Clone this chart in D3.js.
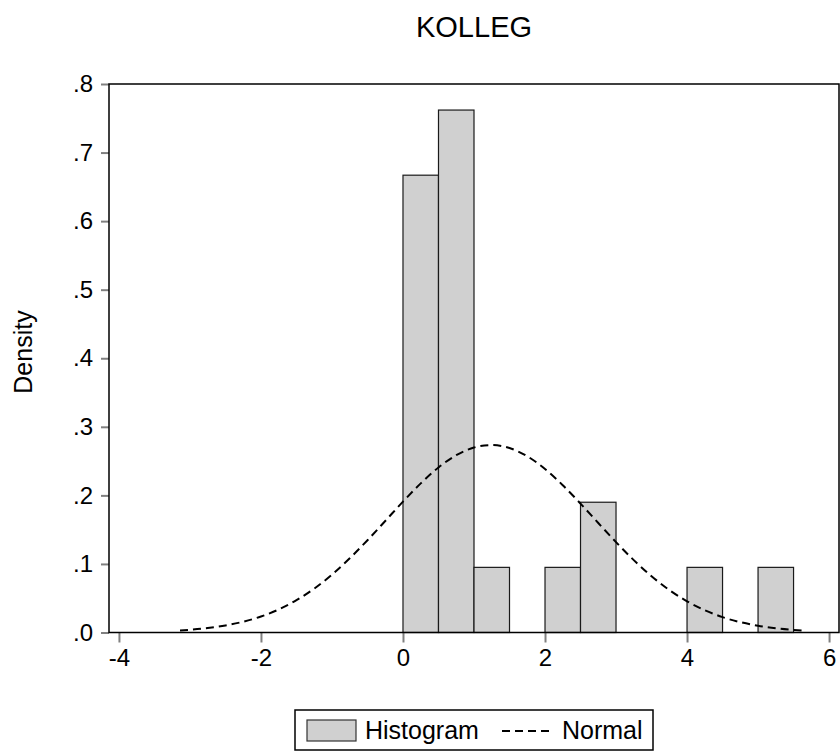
<!DOCTYPE html>
<html>
<head>
<meta charset="utf-8">
<script src="https://cdn.jsdelivr.net/npm/d3@7"></script>
<style>
  body { margin: 0; background: #fff; }
  text { font-family: "Liberation Sans", Arial, sans-serif; fill: #000; }
</style>
</head>
<body>
<svg id="chart" width="840" height="752"></svg>
<script>
// histogram bins (lower edge, upper edge) and densities
const binStart = [0, 0.5, 1, 2, 2.5, 4, 5];
const binEnd = [0.5, 1, 1.5, 2.5, 3, 4.5, 5.5];
const density = [0.667, 0.762, 0.095, 0.095, 0.19, 0.095, 0.095];

// normal curve
const normalX = [-3.14, -2.75, -2.5, -2.25, -2, -1.75, -1.5, -1.25, -1, -0.75, -0.5, -0.25,
  0, 0.25, 0.5, 0.75, 1, 1.25, 1.5, 1.75, 2, 2.25, 2.5, 2.75, 3, 3.25, 3.5, 3.75,
  4, 4.25, 4.5, 4.75, 5, 5.25, 5.5, 5.615];
const normalY = [0.003, 0.0065, 0.0103, 0.0157, 0.0233, 0.0336, 0.0471, 0.064, 0.0844, 0.1082, 0.1346, 0.1626,
  0.1909, 0.2175, 0.2407, 0.2586, 0.2698, 0.2734, 0.269, 0.257, 0.2385, 0.2148, 0.188, 0.1597, 0.1318, 0.1056, 0.0821, 0.062,
  0.0455, 0.0324, 0.0224, 0.0151, 0.0098, 0.0062, 0.0038, 0.003];

const xTicks = [-4, -2, 0, 2, 4, 6];
const yTicks = [0, 0.1, 0.2, 0.3, 0.4, 0.5, 0.6, 0.7, 0.8];

const svg = d3.select("#chart");
const plotL = 109, plotR = 839, plotT = 84, plotB = 632.5;

const x = d3.scaleLinear().domain([-4.14, 6.14]).range([plotL, plotR]);
const y = d3.scaleLinear().domain([0, 0.8]).range([plotB, plotT]);

// bars
svg.append("g")
  .selectAll("rect")
  .data(density)
  .join("rect")
  .attr("x", (d, i) => x(binStart[i]))
  .attr("y", (d) => y(d))
  .attr("width", (d, i) => x(binEnd[i]) - x(binStart[i]))
  .attr("height", (d) => y(0) - y(d))
  .attr("fill", "#d0d0d0")
  .attr("stroke", "#1a1a1a")
  .attr("stroke-width", 1.2);

// normal curve
const line = d3.line()
  .x((d, i) => x(normalX[i]))
  .y((d) => y(d))
  .curve(d3.curveMonotoneX);

svg.append("path")
  .datum(normalY)
  .attr("d", line)
  .attr("fill", "none")
  .attr("stroke", "#000")
  .attr("stroke-width", 2)
  .attr("stroke-dasharray", "8,5");

// axes
const fmt = (d) => d3.format(".1f")(d).replace(/^0/, "");

const yAxis = svg.append("g")
  .attr("transform", `translate(${plotL},0)`)
  .call(d3.axisLeft(y).tickValues(yTicks).tickFormat(fmt).tickSize(8).tickPadding(8));
yAxis.select(".domain").remove();
yAxis.selectAll("line").attr("stroke", "#808080").attr("stroke-width", 2);
yAxis.selectAll("text").attr("font-size", 24).attr("fill", "#000")
  .attr("font-family", "Liberation Sans, Arial, sans-serif");

const xAxis = svg.append("g")
  .attr("transform", `translate(0,${plotB})`)
  .call(d3.axisBottom(x).tickValues(xTicks).tickFormat((d) => String(d)).tickSize(10).tickPadding(6));
xAxis.select(".domain").remove();
xAxis.selectAll("line").attr("stroke", "#808080").attr("stroke-width", 2);
xAxis.selectAll("text").attr("font-size", 24).attr("fill", "#000")
  .attr("font-family", "Liberation Sans, Arial, sans-serif");

// frame
svg.append("rect")
  .attr("x", plotL).attr("y", plotT)
  .attr("width", plotR - plotL).attr("height", plotB - plotT)
  .attr("fill", "none").attr("stroke", "#000").attr("stroke-width", 1.5);

// title and y label
svg.append("text")
  .attr("x", (plotL + plotR) / 2).attr("y", 37)
  .attr("text-anchor", "middle")
  .attr("font-size", 29)
  .text("KOLLEG");

svg.append("text")
  .attr("transform", "translate(32,352) rotate(-90)")
  .attr("text-anchor", "middle")
  .attr("font-size", 25)
  .text("Density");

// legend
const lg = svg.append("g");
lg.append("rect")
  .attr("x", 295).attr("y", 710).attr("width", 358).attr("height", 40)
  .attr("fill", "#fff").attr("stroke", "#000").attr("stroke-width", 1.5);
lg.append("rect")
  .attr("x", 307).attr("y", 720).attr("width", 49).attr("height", 21)
  .attr("fill", "#d0d0d0").attr("stroke", "#333").attr("stroke-width", 1.2);
lg.append("text")
  .attr("x", 365).attr("y", 739)
  .attr("font-size", 25)
  .text("Histogram");
lg.append("line")
  .attr("x1", 502).attr("x2", 550).attr("y1", 731).attr("y2", 731)
  .attr("stroke", "#000").attr("stroke-width", 2).attr("stroke-dasharray", "8,5");
lg.append("text")
  .attr("x", 562).attr("y", 739)
  .attr("font-size", 25)
  .text("Normal");
</script>
</body>
</html>
